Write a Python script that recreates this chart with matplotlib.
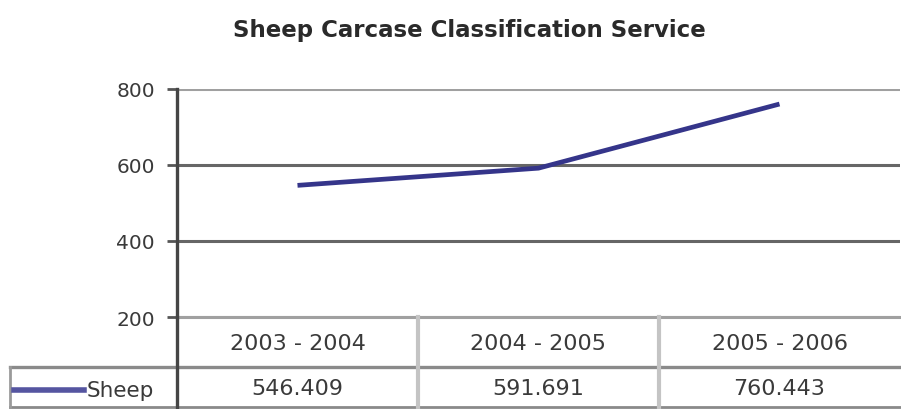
import matplotlib.pyplot as plt
from matplotlib.lines import Line2D

plt.rcParams['font.family'] = ['DejaVu Sans']

categories = ['2003 - 2004', '2004 - 2005', '2005 - 2006']
sheep = [546.409, 591.691, 760.443]
sheep_labels = ['546.409', '591.691', '760.443']
series_name = 'Sheep'
yticks = [200, 400, 600, 800]

W, H = 901, 410
fig = plt.figure(figsize=(W / 100, H / 100), dpi=100)

# plot area in pixels
x0, x1 = 177, 900
ytop, ybot = 90, 318
ax = fig.add_axes([x0 / W, 1 - ybot / H, (x1 - x0) / W, (ybot - ytop) / H])
ax.set_xlim(0, len(categories))
ax.set_ylim(yticks[0], yticks[-1])

xs = [i + 0.5 for i in range(len(categories))]
line_col = '#35358a'
ax.plot(xs, sheep, color=line_col, lw=3.4, solid_capstyle='butt')

for v in yticks:
    c = '#666666' if v in (400, 600) else '#a0a0a0'
    ax.axhline(v, color=c, lw=2.2, zorder=0)

for s in ax.spines.values():
    s.set_visible(False)
ax.axvline(0, color='#454545', lw=2.4, clip_on=False)
ax.set_xticks([])
ax.set_yticks(yticks)
ax.set_yticklabels([str(v) for v in yticks])
ax.tick_params(axis='y', length=7, width=2, color='#555555', labelsize=14.5,
               labelcolor='#3a3a3a', pad=9)

fig.text(469 / W, 1 - 31 / H, 'Sheep Carcase Classification Service',
         ha='center', va='center', fontsize=16.5, fontweight='bold', color='#2a2a2a')

# data table drawn below the plot area
def fy(p):
    return 1 - p / H

def fx(p):
    return p / W

def hline(y, xa, xb, c, lw):
    fig.add_artist(Line2D([fx(xa), fx(xb)], [fy(y), fy(y)], color=c, lw=lw))

def vline(x, ya, yb, c, lw):
    fig.add_artist(Line2D([fx(x), fx(x)], [fy(ya), fy(yb)], color=c, lw=lw))

row1, row2, row3 = 318, 368, 408
left = 10
colw = (x1 - x0) / len(categories)

hline(row1, x0, x1, '#a0a0a0', 2.2)
hline(row2, left, x1, '#8a8a8a', 2.4)
hline(row3, left, x1, '#8a8a8a', 2.0)
vline(left, row2, row3, '#9a9a9a', 2.0)
vline(x0, row1, row3 + 2, '#454545', 2.4)
for i in range(1, len(categories)):
    vline(x0 + i * colw, row1, row3, '#c4c4c4', 3)

for i, (cat, lab) in enumerate(zip(categories, sheep_labels)):
    cx = x0 + (i + 0.5) * colw
    fig.text(fx(cx), fy((row1 + row2) / 2 + 1), cat, ha='center', va='center',
             fontsize=16, color='#3a3a3a')
    fig.text(fx(cx), fy((row2 + row3) / 2 + 1), lab, ha='center', va='center',
             fontsize=16, color='#3a3a3a')

# legend key in the table
ly = (row2 + row3) / 2 + 3
fig.add_artist(Line2D([fx(14), fx(84)], [fy(ly), fy(ly)], color='#5555a0', lw=4))
fig.text(fx(87), fy(ly), series_name, ha='left', va='center', fontsize=15.5, color='#3a3a3a')

fig.savefig('out.png', dpi=100)
